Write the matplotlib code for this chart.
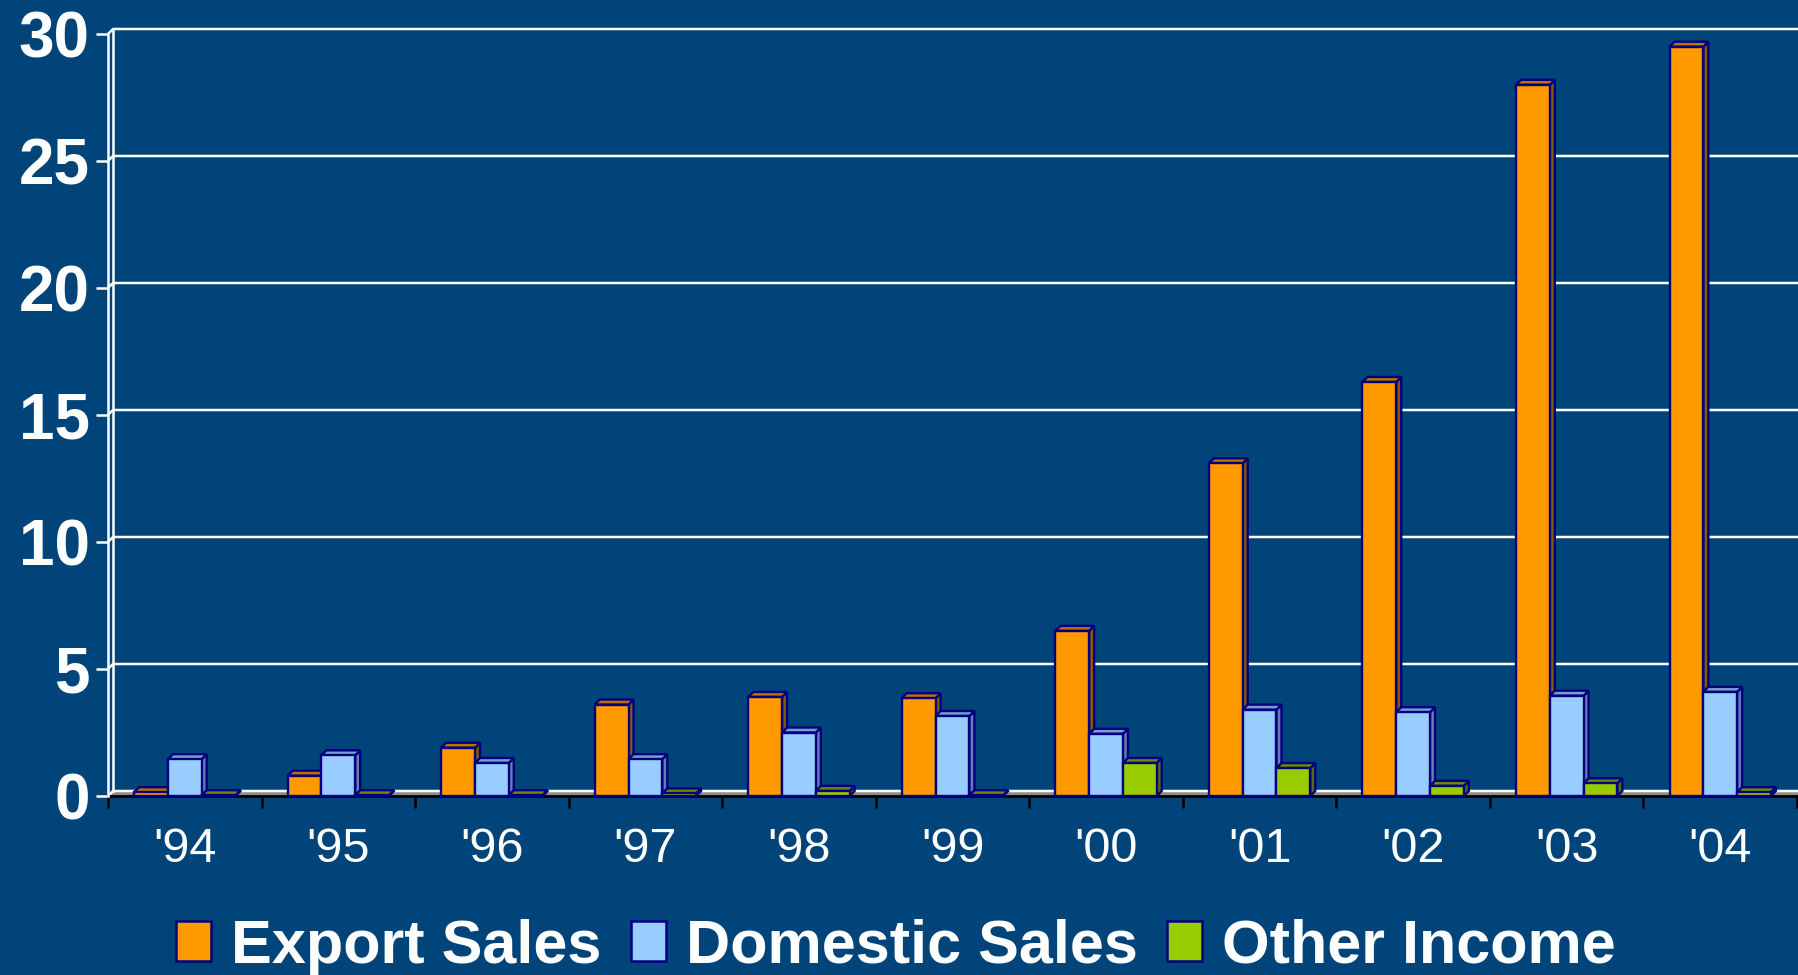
import matplotlib
matplotlib.use('Agg')
import matplotlib.pyplot as plt
from matplotlib.patches import Polygon, Patch
import numpy as np

# ---- data ----
years = ["'94", "'95", "'96", "'97", "'98", "'99", "'00", "'01", "'02", "'03", "'04"]
export_sales = [0.15, 0.8, 1.9, 3.6, 3.9, 3.85, 6.5, 13.1, 16.3, 28.0, 29.5]
domestic_sales = [1.45, 1.6, 1.3, 1.45, 2.5, 3.15, 2.45, 3.4, 3.3, 3.95, 4.1]
other_income = [0.03, 0.03, 0.03, 0.1, 0.2, 0.03, 1.3, 1.1, 0.4, 0.5, 0.15]
series_names = ['Export Sales', 'Domestic Sales', 'Other Income']
y_ticks = [0, 5, 10, 15, 20, 25, 30]

# ---- style ----
BG = '#004479'
front_cols = ['#FF9900', '#99CCFF', '#99CC00']
top_cols = ['#B87300', '#7A9FCC', '#6B8E00']
side_cols = ['#8A5A00', '#6680AA', '#557000']
EDGE = '#000080'

W, H = 1798, 975
fig = plt.figure(figsize=(W / 100, H / 100), dpi=100, facecolor=BG)
left_px, right_px, top_px, bot_px = 108, 1797, 34, 796
ax = fig.add_axes([left_px / W, (H - bot_px) / H, (right_px - left_px) / W, (bot_px - top_px) / H])
ax.set_facecolor('none')
ax.set_xlim(-0.5, len(years) - 0.5)
ax.set_ylim(0, 30)

p0 = ax.transData.transform((0, 0))
p1 = ax.transData.transform((1, 1))
ddx = 5.0 / (p1[0] - p0[0])
ddy = 5.0 / (p1[1] - p0[1])

xmin, xmax = -0.5, len(years) - 0.5

# floor
ax.add_patch(Polygon([(xmin, 0), (xmax, 0), (xmax + ddx, ddy), (xmin + ddx, ddy)],
                     closed=True, facecolor='#8C8C8C', edgecolor='none', zorder=0.5, clip_on=False))
# back wall gridlines
for v in y_ticks:
    ax.plot([xmin, xmin + ddx, xmax + ddx], [v, v + ddy, v + ddy], color='white', lw=1.8,
            zorder=1, clip_on=False, solid_capstyle='butt')
ax.plot([xmin + ddx, xmin + ddx], [ddy, 30 + ddy], color='white', lw=1.8, zorder=1, clip_on=False)

# bars
x = np.arange(len(years))
width = 0.22
LW = 1.7
all_series = [export_sales, domestic_sales, other_income]
for j, vals in enumerate(all_series):
    off = (j - 1) * width
    bars = ax.bar(x + off, vals, width=width, color=front_cols[j], edgecolor=EDGE,
                  linewidth=LW, clip_on=False)
    for i, b in enumerate(bars):
        k = i * 3 + j
        zb = 3 + k * 0.01
        b.set_zorder(zb + 0.005)
        xl = b.get_x()
        xr = xl + b.get_width()
        h = b.get_height()
        side = Polygon([(xr, 0), (xr + ddx, ddy), (xr + ddx, h + ddy), (xr, h)], closed=True,
                       facecolor=side_cols[j], edgecolor=EDGE, linewidth=LW, zorder=zb, clip_on=False)
        top = Polygon([(xl, h), (xr, h), (xr + ddx, h + ddy), (xl + ddx, h + ddy)], closed=True,
                      facecolor=top_cols[j], edgecolor=EDGE, linewidth=LW, zorder=zb, clip_on=False)
        ax.add_patch(side)
        ax.add_patch(top)

# spines
for s in ['top', 'right']:
    ax.spines[s].set_visible(False)
ax.spines['left'].set_color('white')
ax.spines['left'].set_linewidth(1.8)
ax.spines['bottom'].set_color('black')
ax.spines['bottom'].set_linewidth(2)
ax.spines['bottom'].set_zorder(2)

# y ticks
ax.set_yticks(y_ticks)
ax.set_yticklabels([str(v) for v in y_ticks], fontsize=46, fontweight='bold',
                   color='white', family='Liberation Sans')
ax.tick_params(axis='y', direction='out', length=8.6, width=1.8, color='white', pad=4.5)

# x ticks: boundaries (major) and labels at centers (minor)
ax.set_xticks(np.arange(-0.5, len(years), 1.0))
ax.set_xticklabels([])
ax.tick_params(axis='x', which='major', direction='out', length=8.6, width=1.8, color='black')
ax.set_xticks(x, minor=True)
ax.set_xticklabels(years, minor=True, fontsize=35, color='white', family='Liberation Sans')
ax.tick_params(axis='x', which='minor', length=0, pad=22)

# legend
handles = [Patch(facecolor=front_cols[j], edgecolor=EDGE, linewidth=1.8) for j in range(3)]
leg = fig.legend(handles, series_names, loc='center', bbox_to_anchor=(896 / W, 28 / H), ncol=3,
                 frameon=False, prop={'family': 'Liberation Sans', 'weight': 'bold', 'size': 44},
                 handlelength=0.58, handleheight=0.62, handletextpad=0.33, columnspacing=0.47,
                 borderaxespad=0, borderpad=0)
for t in leg.get_texts():
    t.set_color('white')

fig.savefig('out.png', dpi=100, facecolor=BG)
